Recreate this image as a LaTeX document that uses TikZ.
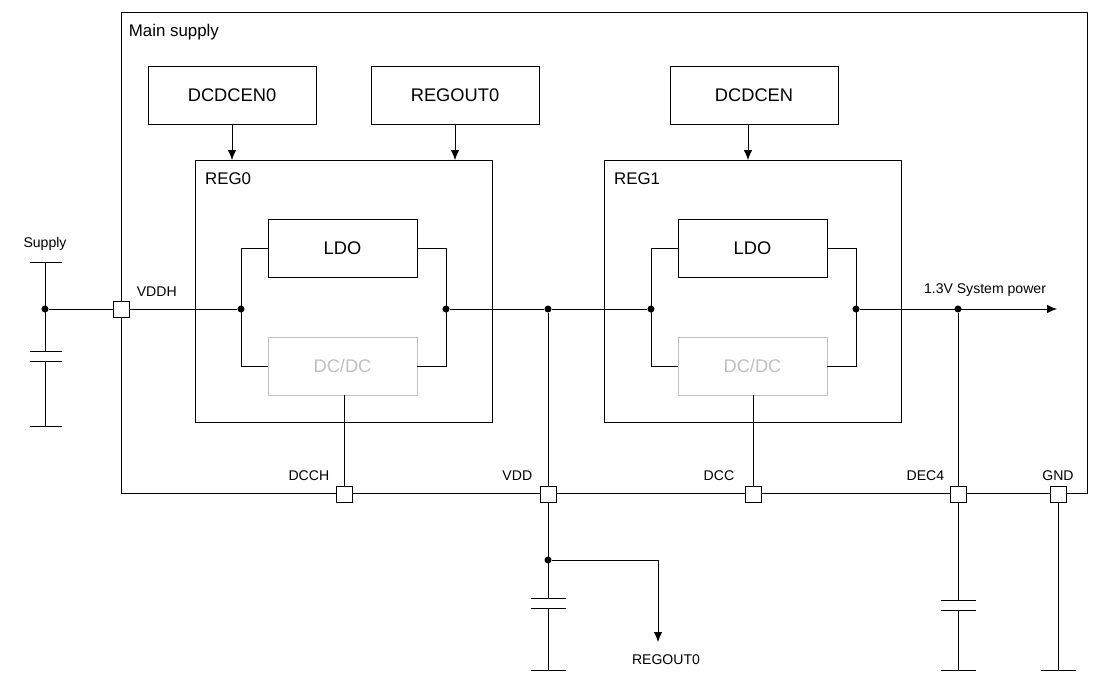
\documentclass[tikz,border=0pt]{standalone}
\usepackage{fontspec}
\setmainfont{Liberation Sans}
\usetikzlibrary{arrows.meta}
\begin{document}
\begin{tikzpicture}[x=0.025cm,y=-0.025cm,line width=0.6pt,
 box/.style={draw,minimum width=149*0.025cm,minimum height=58*0.025cm,font=\fontsize{13}{15}\selectfont,inner sep=0},
 gbox/.style={box,draw=black!25,text=black!25},
 lab/.style={font=\fontsize{10}{12}\selectfont,inner sep=1pt},
 pad/.style={draw,fill=white,minimum size=16*0.025cm,inner sep=0},
 dot/.style={circle,fill,inner sep=0,minimum size=5pt},
 arr/.style={-{Latex[length=7pt,width=6pt]}}]
\useasboundingbox (0,0) rectangle (1119,696);
\draw (121,12) rectangle (1087,493);
\node[lab,anchor=north west,font=\fontsize{12}{14}\selectfont] at (127,22) {Main supply};
\node[box,minimum width=168*0.025cm] (en0) at (232,95) {DCDCEN0};
\node[box,minimum width=168*0.025cm] (ro0) at (455,95) {REGOUT0};
\node[box,minimum width=168*0.025cm] (en1) at (754,95) {DCDCEN};
\draw (195,160) rectangle (492,422); \node[anchor=north west,font=\fontsize{12}{14}\selectfont] at (200,168) {REG0};
\draw (604,160) rectangle (901,422); \node[anchor=north west,font=\fontsize{12}{14}\selectfont] at (609,168) {REG1};
\coordinate (a0) at (232,160); \coordinate (a1) at (455,160); \coordinate (a2) at (748,160);
\draw[arr] (232,124) -- (a0); \draw[arr] (455,124) -- (a1); \draw[arr] (748,124) -- (a2);
\node[box] (ldo0) at (342.5,248) {LDO};
\node[gbox] (dc0) at (342.5,366) {DC/DC};
\node[box] (ldo1) at (752.5,248) {LDO};
\node[gbox] (dc1) at (752.5,366) {DC/DC};
\draw (ldo0.west) -- (241,248) -- (241,366) -- (dc0.west);
\draw (ldo0.east) -- (446,248) -- (446,366) -- (dc0.east);
\draw (ldo1.west) -- (651,248) -- (651,366) -- (dc1.west);
\draw (ldo1.east) -- (856,248) -- (856,366) -- (dc1.east);
% pads
\node[pad] (vddh) at (121,309) {};
\node[pad] (dcch) at (344,494) {};
\node[pad] (vdd) at (548,494) {};
\node[pad] (dcc) at (753,494) {};
\node[pad] (dec4) at (958,494) {};
\node[pad] (gnd) at (1058,494) {};
\node[lab,anchor=south west] at (135,298) {VDDH};
\node[lab,anchor=south east] at (331,482) {DCCH};
\node[lab,anchor=south east] at (534,482) {VDD};
\node[lab,anchor=south east] at (736,482) {DCC};
\node[lab,anchor=south east] at (946,482) {DEC4};
\node[lab,anchor=south] at (1058,482) {GND};
% dots
\node[dot] (d0l) at (241,309) {}; \node[dot] (d0r) at (446,309) {};
\node[dot] (d1l) at (651,309) {}; \node[dot] (d1r) at (856,309) {};
\node[dot] (dv) at (548,309) {}; \node[dot] (dd) at (958,309) {};
\node[dot] (ds) at (45,309) {}; \node[dot] (dr) at (548,560) {};
\draw (vddh.east) -- (d0l); \draw (d0r) -- (dv) -- (d1l);
\coordinate (out) at (1057,309);
\draw[arr] (d1r) -- (out);
\node[lab,anchor=south] at (985,298) {1.3V System power};
\draw (dc0.south -| dcch.north) -- (dcch.north); \draw (dc1.south -| dcc.north) -- (dcc.north);
\draw (dv) -- (vdd.north); \draw (dd) -- (dec4.north);
% supply
\node[lab,anchor=south] at (45,252) {Supply};
\draw (30,262) -- (62,262); \draw (45,262) -- (45,351);
\draw (30,351) -- (62,351); \draw (30,361) -- (62,361);
\draw (45,361) -- (45,426); \draw (30,426) -- (62,426);
\draw (ds) -- (vddh.west);
% VDD
\draw (vdd.south) -- (548,598); \draw (531,598) -- (566,598); \draw (531,608) -- (566,608);
\draw (548,608) -- (548,670); \draw (531,670) -- (566,670);
\coordinate (ro) at (658,642);
\draw[arr] (dr) -- (658,560) -- (ro);
\node[lab,anchor=north] at (666,653) {REGOUT0};
% DEC4
\draw (dec4.south) -- (958,600); \draw (941,600) -- (976,600); \draw (941,610) -- (976,610);
\draw (958,610) -- (958,670); \draw (941,670) -- (976,670);
% GND
\draw (gnd.south) -- (1058,670); \draw (1041,670) -- (1076,670);
\end{tikzpicture}
\end{document}
